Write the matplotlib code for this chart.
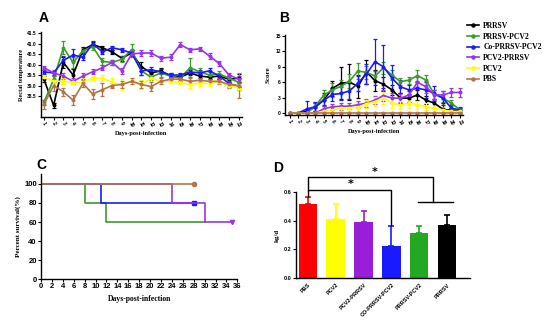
import matplotlib
matplotlib.use("Agg")
import matplotlib.pyplot as plt
from matplotlib.lines import Line2D
import numpy as np

# ---- data ----
days = np.arange(1, 22)
groups = ["PRRSV", "PRRSV-PCV2", "Co-PRRSV-PCV2", "PCV2-PRRSV", "PCV2", "PBS"]
colors = ["#000000", "#3c9c28", "#1a1aff", "#9933ee", "#ffff00", "#b5734a"]

# A: rectal temperature
temp_prrsv = [39.3, 38.05, 40.1, 39.5, 40.7, 40.95, 40.8, 40.6, 40.3, 40.55, 39.9, 39.6, 39.7, 39.45, 39.4, 39.6, 39.45, 39.4, 39.45, 39.3, 39.35]
temp_prrsv_pcv2 = [38.2, 39.3, 40.8, 40.1, 40.65, 40.85, 40.15, 40.1, 40.25, 40.7, 39.7, 39.4, 39.6, 39.45, 39.35, 39.85, 39.65, 39.5, 39.55, 39.35, 39.15]
temp_co = [39.65, 39.6, 40.2, 40.45, 40.35, 41.0, 40.6, 40.8, 40.7, 40.55, 39.7, 39.75, 39.65, 39.5, 39.5, 39.65, 39.6, 39.7, 39.45, 39.1, 38.95]
temp_pcv2_prrsv = [39.85, 39.6, 39.45, 39.2, 39.45, 39.65, 39.85, 40.1, 39.7, 40.5, 40.55, 40.55, 40.3, 40.35, 40.95, 40.7, 40.75, 40.4, 40.05, 39.5, 39.3]
temp_pcv2 = [39.4, 39.2, 39.2, 39.15, 39.15, 39.35, 39.35, 39.15, 39.05, 39.2, 39.05, 39.35, 39.2, 39.2, 39.15, 39.05, 39.1, 39.1, 39.15, 39.0, 38.9]
temp_pbs = [38.1, 39.0, 38.7, 38.3, 39.1, 38.6, 38.8, 39.0, 39.05, 39.2, 39.05, 38.95, 39.2, 39.3, 39.3, 39.2, 39.25, 39.2, 39.2, 39.05, 39.0]

temp_err_prrsv = [0.15, 0.12, 0.25, 0.3, 0.15, 0.12, 0.1, 0.1, 0.12, 0.15, 0.2, 0.15, 0.12, 0.1, 0.1, 0.12, 0.1, 0.1, 0.12, 0.15, 0.2]
temp_err_prrsv_pcv2 = [0.12, 0.15, 0.3, 0.25, 0.15, 0.15, 0.15, 0.12, 0.15, 0.3, 0.2, 0.15, 0.2, 0.15, 0.15, 0.45, 0.2, 0.15, 0.15, 0.15, 0.2]
temp_err_co = [0.1, 0.1, 0.2, 0.3, 0.15, 0.12, 0.12, 0.1, 0.1, 0.12, 0.2, 0.15, 0.12, 0.1, 0.1, 0.12, 0.12, 0.15, 0.12, 0.15, 0.15]
temp_err_pcv2_prrsv = [0.1, 0.15, 0.15, 0.15, 0.15, 0.12, 0.12, 0.1, 0.15, 0.15, 0.15, 0.15, 0.12, 0.15, 0.12, 0.1, 0.1, 0.15, 0.1, 0.1, 0.15]
temp_err_pcv2 = [0.1, 0.1, 0.15, 0.1, 0.2, 0.1, 0.15, 0.2, 0.25, 0.15, 0.2, 0.15, 0.15, 0.1, 0.1, 0.15, 0.1, 0.12, 0.1, 0.12, 0.12]
temp_err_pbs = [0.2, 0.25, 0.2, 0.25, 0.15, 0.25, 0.3, 0.1, 0.15, 0.15, 0.15, 0.2, 0.15, 0.1, 0.1, 0.15, 0.1, 0.1, 0.15, 0.15, 0.6]

# B: clinical score
score_prrsv = [0, 0, 0.3, 1.2, 2.6, 4.8, 5.8, 6.0, 5.2, 8.0, 6.3, 5.6, 4.5, 2.9, 2.9, 3.5, 2.5, 1.9, 0.7, 0.5, 0.5]
score_prrsv_pcv2 = [0, 0, 0, 1.4, 3.5, 4.5, 5.2, 6.2, 8.2, 7.9, 7.2, 8.8, 7.4, 6.1, 6.4, 7.3, 6.4, 3.6, 2.9, 1.9, 0.6]
score_co = [0, 0, 0.8, 1.2, 2.5, 3.6, 3.8, 4.3, 5.8, 7.6, 10.0, 9.0, 6.8, 5.1, 4.5, 4.8, 4.5, 3.8, 2.9, 0.9, 0.6]
score_pcv2_prrsv = [0, 0, 0, 0, 0.8, 1.2, 1.3, 1.3, 1.6, 1.9, 2.5, 3.4, 2.9, 2.9, 3.5, 6.0, 5.1, 3.5, 3.5, 4.0, 4.0]
score_pcv2 = [0, 0, 0, 0, 0.3, 0.6, 0.9, 1.0, 1.1, 1.8, 2.2, 2.9, 1.9, 1.6, 1.9, 1.6, 1.2, 0.9, 0.6, 0.3, 0.3]
score_pbs = [0] * 21

score_err_prrsv = [0, 0, 0.2, 0.8, 1.2, 1.5, 3.1, 3.5, 2.2, 2.4, 2.0, 1.4, 1.0, 0.9, 0.8, 0.9, 0.8, 0.9, 1.3, 0.5, 0.5]
score_err_prrsv_pcv2 = [0, 0, 0, 0.5, 0.9, 1.3, 1.2, 1.4, 1.5, 1.3, 1.0, 1.2, 1.0, 0.7, 0.7, 1.1, 1.0, 0.8, 0.8, 0.6, 0.4]
score_err_co = [0, 0, 1.6, 0.9, 1.0, 1.2, 1.3, 1.6, 1.5, 2.0, 4.5, 4.2, 2.6, 1.3, 1.0, 1.3, 1.6, 1.5, 1.4, 0.6, 0.5]
score_err_pcv2_prrsv = [0, 0, 0, 0, 0.5, 0.6, 0.7, 0.6, 0.7, 0.8, 0.8, 1.0, 0.9, 0.7, 0.8, 1.0, 1.2, 0.9, 0.8, 0.9, 0.9]
score_err_pcv2 = [0, 0, 0, 0, 0.3, 0.5, 0.6, 0.6, 0.7, 0.8, 0.9, 1.2, 1.0, 0.8, 0.9, 0.8, 0.7, 0.6, 0.5, 0.4, 0.3]
score_err_pbs = [0] * 21

# C: survival (step curves)
surv_groups = ["PRRSV-PCV2", "Co-PRRSV-PCV2", "PCV2-PRRSV", "PBS"]
surv_time = [[0, 8, 12, 30], [0, 11, 28], [0, 24, 30, 35], [0, 28]]
surv_pct = [[100, 80, 60, 60], [100, 80, 80], [100, 80, 60, 60], [100, 100]]
surv_colors = ["#3c9c28", "#1a1aff", "#9933ee", "#b5734a"]
surv_markers = [None, "s", "v", "o"]

# D: average daily gain
bar_labels = ["PBS", "PCV2", "PCV2-PRRSV", "CO-PRRSV-PCV2", "PRRSV-PCV2", "PRRSV"]
bar_values = [0.515, 0.408, 0.393, 0.222, 0.316, 0.370]
bar_err = [0.05, 0.104, 0.075, 0.14, 0.046, 0.068]
bar_colors = ["#ff0000", "#ffff00", "#9a1ed8", "#1a1aff", "#22a822", "#000000"]

temps = [temp_prrsv, temp_prrsv_pcv2, temp_co, temp_pcv2_prrsv, temp_pcv2, temp_pbs]
temp_errs = [temp_err_prrsv, temp_err_prrsv_pcv2, temp_err_co, temp_err_pcv2_prrsv, temp_err_pcv2, temp_err_pbs]
scores = [score_prrsv, score_prrsv_pcv2, score_co, score_pcv2_prrsv, score_pcv2, score_pbs]
score_errs = [score_err_prrsv, score_err_prrsv_pcv2, score_err_co, score_err_pcv2_prrsv, score_err_pcv2, score_err_pbs]

SERIF = "Liberation Serif"
SANS = "Liberation Sans"

fig = plt.figure(figsize=(5.5, 3.33), dpi=100)


def style_axis(ax, tick_size):
    for side in ["top", "right"]:
        ax.spines[side].set_visible(False)
    for side in ["left", "bottom"]:
        ax.spines[side].set_linewidth(1.0)
    ax.tick_params(labelsize=tick_size, width=0.8, length=2, pad=1)
    for lab in ax.get_xticklabels() + ax.get_yticklabels():
        lab.set_fontweight("bold")
        lab.set_fontfamily(SANS)


# ---- A ----
axA = fig.add_axes([0.0745, 0.6486, 0.365, 0.2553])
for y, e, c in zip(temps, temp_errs, colors):
    axA.errorbar(days, y, yerr=e, color=c, lw=1.2, marker="o", ms=1.8,
                 capsize=1.2, elinewidth=0.9, capthick=0.9)
axA.set_xlim(0.7, 21.3)
axA.set_ylim(37.5, 41.55)
axA.set_xticks(days)
axA.set_yticks(np.arange(38.5, 41.6, 0.5))
axA.set_yticklabels([f"{v:.1f}" for v in np.arange(38.5, 41.6, 0.5)])
axA.tick_params(axis="x", rotation=-60)
style_axis(axA, 3.5)
axA.set_ylabel("Rectal temperature", fontsize=4.5, fontweight="bold", family=SERIF, labelpad=2)
axA.set_xlabel("Days-post-infection", fontsize=4.5, fontweight="bold", family=SERIF, labelpad=2)
fig.text(0.071, 0.945, "A", fontsize=10, fontweight="bold", family=SANS, va="center")

# ---- B ----
axB = fig.add_axes([0.518, 0.6547, 0.3245, 0.240])
for y, e, c in zip(scores, score_errs, colors):
    axB.errorbar(days, y, yerr=e, color=c, lw=1.2, marker="o", ms=1.8,
                 capsize=1.2, elinewidth=0.9, capthick=0.9)
axB.set_xlim(0.4, 21.4)
axB.set_ylim(-0.4, 15.2)
axB.set_xticks(days)
axB.set_yticks([0, 3, 6, 9, 12, 15])
axB.tick_params(axis="x", rotation=-60)
style_axis(axB, 3.5)
axB.set_ylabel("Score", fontsize=5, fontweight="bold", family=SERIF, labelpad=3)
axB.set_xlabel("Days-post-infection", fontsize=4.5, fontweight="bold", family=SERIF, labelpad=2)
fig.text(0.508, 0.945, "B", fontsize=10, fontweight="bold", family=SANS, va="center")

handles = [Line2D([], [], color=c, lw=1.2, marker="o", ms=2.2) for c in colors]
fig.legend(handles, groups, loc="upper left", bbox_to_anchor=(0.837, 0.955),
           frameon=False, handlelength=1.6, handletextpad=0.5, labelspacing=0.35,
           prop={"family": SERIF, "weight": "bold", "size": 5.5})

# ---- C ----
axC = fig.add_axes([0.0745, 0.1613, 0.357, 0.315])
for t, s, c, m in zip(surv_time, surv_pct, surv_colors, surv_markers):
    axC.step(t, s, where="post", color=c, lw=1.2)
    if m is not None:
        axC.plot(t[-1], s[-1], marker=m, color=c, ms=3)
axC.set_xlim(0, 36)
axC.set_ylim(0, 110)
axC.set_xticks(np.arange(0, 37, 2))
axC.set_yticks(np.arange(0, 101, 20))
style_axis(axC, 5.5)
axC.set_ylabel("Percent survival(%)", fontsize=5, fontweight="bold", family=SERIF, labelpad=2)
axC.set_xlabel("Days-post-infection", fontsize=5.5, fontweight="bold", family=SERIF, labelpad=3)
fig.text(0.066, 0.505, "C", fontsize=10, fontweight="bold", family=SANS, va="center")

# ---- D ----
axD = fig.add_axes([0.538, 0.1643, 0.316, 0.260])
xpos = np.arange(len(bar_labels))
axD.bar(xpos, bar_values, width=0.65, color=bar_colors)
for x, v, e, c in zip(xpos, bar_values, bar_err, bar_colors):
    axD.errorbar(x, v, yerr=[[0], [e]], color=c, capsize=2.5, elinewidth=1.2, capthick=1.2)
axD.set_xlim(-0.42, 5.8)
axD.set_ylim(0, 0.6)
axD.set_xticks(xpos)
axD.set_xticklabels(bar_labels, rotation=45, ha="right", rotation_mode="anchor")
axD.set_yticks([0.0, 0.2, 0.4, 0.6])
axD.set_yticklabels(["0.0", "0.2", "0.4", "0.6"])
style_axis(axD, 4)
axD.tick_params(axis="x", length=0, pad=3)
axD.set_ylabel("kg/d", fontsize=5, fontweight="bold", family=SERIF, labelpad=3)

# significance brackets
pbs_top = bar_values[0] + bar_err[0]
co_top = bar_values[3] + bar_err[3]
y_low, y_high = 0.61, 0.70
mid_gb = (xpos[4] + xpos[5]) / 2
axD.plot([0, 0, 3, 3], [pbs_top, y_low, y_low, co_top + 0.008], color="k", lw=1.0, clip_on=False)
axD.plot([0, 0, mid_gb, mid_gb], [y_low, y_high, y_high, 0.53], color="k", lw=1.0, clip_on=False)
axD.plot([xpos[4] - 0.05, xpos[5] + 0.2], [0.53, 0.53], color="k", lw=1.0, clip_on=False)
axD.text(1.55, y_low + 0.01, "*", ha="center", va="bottom", fontsize=8, fontweight="bold")
axD.text(mid_gb / 2 + 0.15, y_high + 0.005, "*", ha="center", va="bottom", fontsize=8, fontweight="bold")
fig.text(0.497, 0.495, "D", fontsize=10, fontweight="bold", family=SANS, va="center")

fig.savefig("out.png", dpi=100)
